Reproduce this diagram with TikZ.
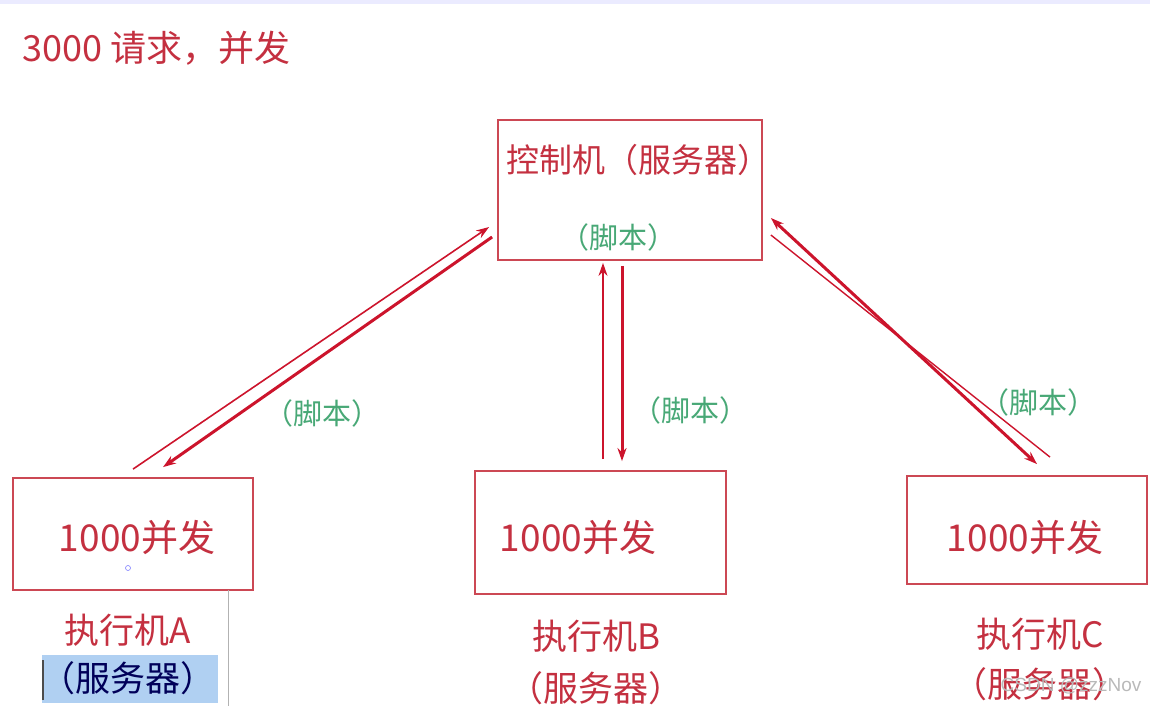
\documentclass[tikz,border=0pt]{standalone}
\usepackage{fontspec}
\setmainfont{Noto Sans CJK SC}
\newfontfamily\wmfont{Liberation Sans}
\usetikzlibrary{arrows.meta}
\definecolor{boxred}{RGB}{204,72,84}
\definecolor{txtred}{RGB}{196,48,64}
\definecolor{arrred}{RGB}{204,20,44}
\definecolor{scriptgreen}{RGB}{72,168,118}
\definecolor{selblue}{RGB}{176,208,242}
\tikzset{
  machine/.style={draw=boxred, line width=1.8pt, fill=white},
  redtxt/.style={text=txtred, font=\fontsize{35}{40}\selectfont},
  greentxt/.style={text=scriptgreen, font=\fontsize{29}{34}\selectfont},
  tip/.style={-{Stealth[length=13pt,width=9pt]}},
}
\begin{document}
\begin{tikzpicture}[x=1pt,y=-1pt]
\useasboundingbox (0,0) rectangle (1150,706);
\fill[blue!8] (0,0) rectangle (1150,4);
% titre
\node[redtxt, font=\fontsize{36}{40}\selectfont, anchor=west, inner sep=0pt] (titre) at (22,48) {3000 请求，并发};
% machines
\node[machine, minimum width=264, minimum height=140] (ctrl) at (630,190) {};
\node[machine, minimum width=240, minimum height=112] (exA) at (133,534) {};
\node[machine, minimum width=251, minimum height=123] (exB) at (600.5,532.5) {};
\node[machine, minimum width=240, minimum height=108] (exC) at (1027,530) {};
\node[redtxt, font=\fontsize{33}{38}\selectfont] (ctrltxt) at (638,160) {控制机（服务器）};
\node[greentxt] (ctrlscript) at (618,237) {（脚本）};
\node[redtxt, font=\fontsize{37}{42}\selectfont] (concA) at (137,537) {1000并发};
\node[redtxt, font=\fontsize{37}{42}\selectfont] (concB) at (578,537) {1000并发};
\node[redtxt, font=\fontsize{37}{42}\selectfont] (concC) at (1025,537) {1000并发};
\draw[blue!50, line width=0.6pt] (128,568) circle (2.5);
% etiquettes sous les boites
\draw[gray!60, line width=1pt] (228,590) -- (228,706);
\fill[selblue] (42,655) rectangle (218,703);
\draw[black!70, line width=1.5pt] (43,660) -- (43,700);
\node[redtxt] (nomA) at (128,630) {执行机A};
\node[redtxt, text=black!65!blue] (srvA) at (128,678) {（服务器）};
\node[redtxt] (nomB) at (596,636) {执行机B};
\node[redtxt] (srvB) at (596,688) {（服务器）};
\node[redtxt] (nomC) at (1040,634) {执行机C};
\node[redtxt] (srvC) at (1040,684) {（服务器）};
% fleches gauche
\draw[arrred, line width=1.6pt, tip] ([shift={(0,-8)}]exA.north) -- ([shift={(-8,37)}]ctrl.west);
\draw[arrred, line width=3pt, tip] ([shift={(-5,47)}]ctrl.west) -- ([shift={(30,-10)}]exA.north);
% fleches milieu
\draw[arrred, line width=1.6pt, tip] ([shift={(2.5,-11)}]exB.north) -- ([shift={(-27,2)}]ctrl.south);
\draw[arrred, line width=3pt, tip] ([shift={(-8,5)}]ctrl.south) -- ([shift={(21.5,-9)}]exB.north);
% fleches droite
\draw[arrred, line width=3pt, {Stealth[length=13pt,width=9pt]}-{Stealth[length=13pt,width=9pt]}] ([shift={(8,28)}]ctrl.east) -- ([shift={(10,-11)}]exC.north);
\draw[arrred, line width=1.4pt] ([shift={(8,45)}]ctrl.east) -- ([shift={(23,-18)}]exC.north);
% scripts
\node[greentxt] (scrA) at (322,413) {（脚本）};
\node[greentxt] (scrB) at (690,410) {（脚本）};
\node[greentxt] (scrC) at (1038,402) {（脚本）};
% filigrane
\node[text=gray!55, font=\wmfont\fontsize{19}{22}\selectfont] (wm) at (1071,686) {CSDN @zzzNov};
\end{tikzpicture}
\end{document}
